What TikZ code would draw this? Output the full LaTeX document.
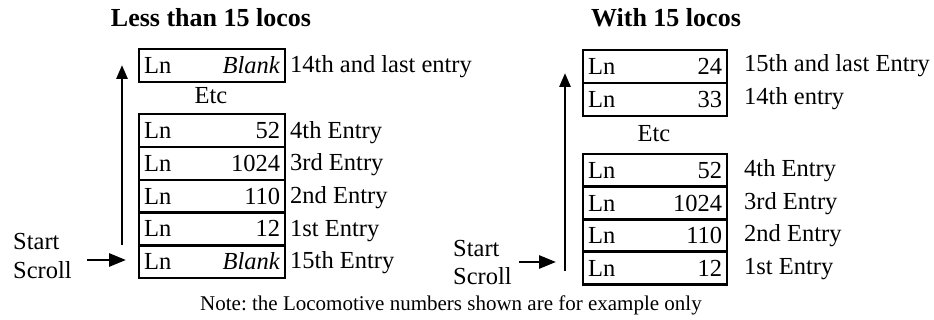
\documentclass[tikz,border=0pt]{standalone}
\usepackage{fontspec}
\setmainfont{Liberation Serif}
\usetikzlibrary{arrows.meta}
\frenchspacing
\begin{document}
\begin{tikzpicture}[x=1pt,y=-1pt,
  entrybox/.style={draw, line width=2.2pt, inner sep=0pt, anchor=north west,
    minimum height=33pt, text height=18pt, text depth=2pt,
    font=\fontsize{24.5}{26}\selectfont},
  lbox/.style={entrybox, minimum width=146pt, text width=136pt},
  rbox/.style={entrybox, minimum width=144pt, text width=134pt},
  lbl/.style={anchor=base west, inner sep=0pt, font=\fontsize{24.5}{26}\selectfont},
  txt/.style={inner sep=0pt, font=\fontsize{24.5}{26}\selectfont},
  head/.style={inner sep=0pt, anchor=base, font=\fontsize{26}{28}\selectfont\bfseries},
  scrollarrow/.style={line width=2.8pt},
]
\useasboundingbox (0,0) rectangle (934,320);

% headings
\node[head] (h1) at (211,27) {Less than 15 locos};
\node[head] (h2) at (666,27) {With 15 locos};

% ---- left panel ----
\node[lbox] (l14) at (138,48) {Ln\hfill\textit{Blank}\hspace{7pt}};
\node[txt, anchor=base] (letc) at (211,104) {Etc};
\node[lbox] (l4)  at (138,113)   {Ln\hfill 52\hspace{5pt}};
\node[lbox] (l3)  at (138,145.8) {Ln\hfill 1024\hspace{5pt}};
\node[lbox] (l2)  at (138,178.6) {Ln\hfill 110\hspace{5pt}};
\node[lbox] (l1)  at (138,211.4) {Ln\hfill 12\hspace{5pt}};
\node[lbox] (l15) at (138,244.2) {Ln\hfill\textit{Blank}\hspace{7pt}};

\node[lbl] (t14) at (290,73)  {14th and last entry};
\node[lbl] (t4)  at (290,138.5) {4th Entry};
\node[lbl] (t3)  at (290,171) {3rd Entry};
\node[lbl] (t2)  at (290,204) {2nd Entry};
\node[lbl] (t1)  at (290,236.5) {1st Entry};
\node[lbl] (t15) at (290,269) {15th Entry};

\node[lbl] (ls1) at (13,250) {Start};
\node[lbl] (ls2) at (13,279) {Scroll};

\coordinate (lva) at (122,245);
\coordinate (lvb) at (122,65);
\coordinate (lha) at (87,260);
\coordinate (lhb) at (126,260);
\draw[scrollarrow,-{Triangle[length=14pt,width=11pt]}] (lva) -- (lvb);
\draw[scrollarrow,-{Triangle[length=17pt,width=13pt]}] (lha) -- (lhb);

% ---- right panel ----
\node[rbox] (r15) at (582,49)  {Ln\hfill 24\hspace{8pt}};
\node[rbox] (r14) at (582,82)  {Ln\hfill 33\hspace{8pt}};
\node[txt, anchor=base] (retc) at (654,142) {Etc};
\node[rbox] (r4) at (582,153)   {Ln\hfill 52\hspace{8pt}};
\node[rbox] (r3) at (582,185.5) {Ln\hfill 1024\hspace{8pt}};
\node[rbox] (r2) at (582,218)   {Ln\hfill 110\hspace{8pt}};
\node[rbox] (r1) at (582,250.5) {Ln\hfill 12\hspace{8pt}};

\node[lbl] (u15) at (744,72)  {15th and last Entry};
\node[lbl] (u14) at (744,105) {14th entry};
\node[lbl] (u4)  at (744,177) {4th Entry};
\node[lbl] (u3)  at (744,209.5) {3rd Entry};
\node[lbl] (u2)  at (744,242) {2nd Entry};
\node[lbl] (u1)  at (744,274.5) {1st Entry};

\node[lbl] (rs1) at (453,257) {Start};
\node[lbl] (rs2) at (453,285) {Scroll};

\coordinate (rva) at (565,271);
\coordinate (rvb) at (565,73);
\coordinate (rha) at (519,262);
\coordinate (rhb) at (556,262);
\draw[scrollarrow,-{Triangle[length=14pt,width=11pt]}] (rva) -- (rvb);
\draw[scrollarrow,-{Triangle[length=17pt,width=13pt]}] (rha) -- (rhb);

% note
\node[inner sep=0pt, anchor=base, font=\fontsize{21}{23}\selectfont] (note) at (451,310)
  {Note: the Locomotive numbers shown are for example only};
\end{tikzpicture}
\end{document}
